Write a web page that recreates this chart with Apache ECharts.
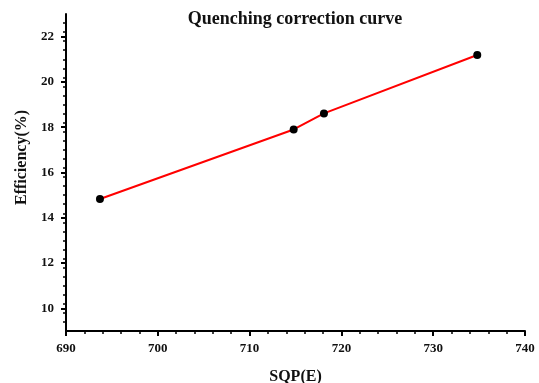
<!DOCTYPE html>
<html>
<head>
<meta charset="utf-8">
<script src="https://cdn.jsdelivr.net/npm/echarts@6/dist/echarts.min.js"></script>
<style>
  html, body { margin: 0; padding: 0; background: #fff; }
  #chart { width: 539px; height: 383px; }
</style>
</head>
<body>
<div id="chart"></div>
<script>
// quenching curve points
const sqpValues = [693.7, 714.8, 718.1, 734.8];
const efficiencyValues = [14.83, 17.9, 18.61, 21.19];

const yMajorTicks = [10, 12, 14, 16, 18, 20, 22];
const yMinorTicks = [];
for (let i = 1; i < 35; i++) {
  const v = +(9 + i * 0.4).toFixed(1);
  if (!yMajorTicks.includes(v)) yMinorTicks.push(v);
}

const serif = "Liberation Serif";
const axisColor = "#000";

const chart = echarts.init(document.getElementById("chart"));
chart.setOption({
  animation: false,
  title: {
    text: "Quenching correction curve",
    left: 290,
    top: 5,
    textAlign: "center",
    textStyle: { fontFamily: serif, fontWeight: "bold", fontSize: 18, color: "#111" },
  },
  grid: { left: 66, right: 14, top: 14, bottom: 52, outerBoundsMode: "none", containLabel: false },
  xAxis: {
    type: "value",
    min: 690,
    max: 740,
    interval: 10,
    name: "SQP(E)",
    nameLocation: "middle",
    nameGap: 38,
    nameTextStyle: { fontFamily: serif, fontWeight: "bold", fontSize: 16, color: "#111" },
    axisLine: { show: true, lineStyle: { color: axisColor, width: 2 } },
    axisTick: { show: true, inside: false, length: 5, lineStyle: { color: axisColor, width: 2 } },
    minorTick: { show: true, splitNumber: 5, length: 3, lineStyle: { color: axisColor, width: 1.5 } },
    axisLabel: { margin: 11, fontFamily: serif, fontWeight: "bold", fontSize: 13, color: "#111" },
    splitLine: { show: false },
  },
  yAxis: [
    {
      type: "value",
      min: 9,
      max: 23,
      name: "Efficiency(%)",
      nameLocation: "middle",
      nameGap: 36,
      nameRotate: 90,
      nameTextStyle: { fontFamily: serif, fontWeight: "bold", fontSize: 16, color: "#111", padding: [0, 0, 0, 30] },
      axisLine: { show: true, lineStyle: { color: axisColor, width: 2 } },
      axisTick: { show: true, length: 5, customValues: yMajorTicks, lineStyle: { color: axisColor, width: 2 } },
      axisLabel: { margin: 12, customValues: yMajorTicks, fontFamily: serif, fontWeight: "bold", fontSize: 13, color: "#111" },
      splitLine: { show: false },
    },
    {
      type: "value",
      min: 9,
      max: 23,
      position: "left",
      axisLine: { show: false },
      axisTick: { show: true, length: 3, customValues: yMinorTicks, lineStyle: { color: axisColor, width: 1.5 } },
      axisLabel: { show: false },
      splitLine: { show: false },
    },
  ],
  series: [
    {
      type: "line",
      data: sqpValues.map((x, i) => [x, efficiencyValues[i]]),
      symbol: "circle",
      symbolSize: 8,
      lineStyle: { color: "#ff0000", width: 2 },
      itemStyle: { color: "#000" },
    },
  ],
});
</script>
</body>
</html>
